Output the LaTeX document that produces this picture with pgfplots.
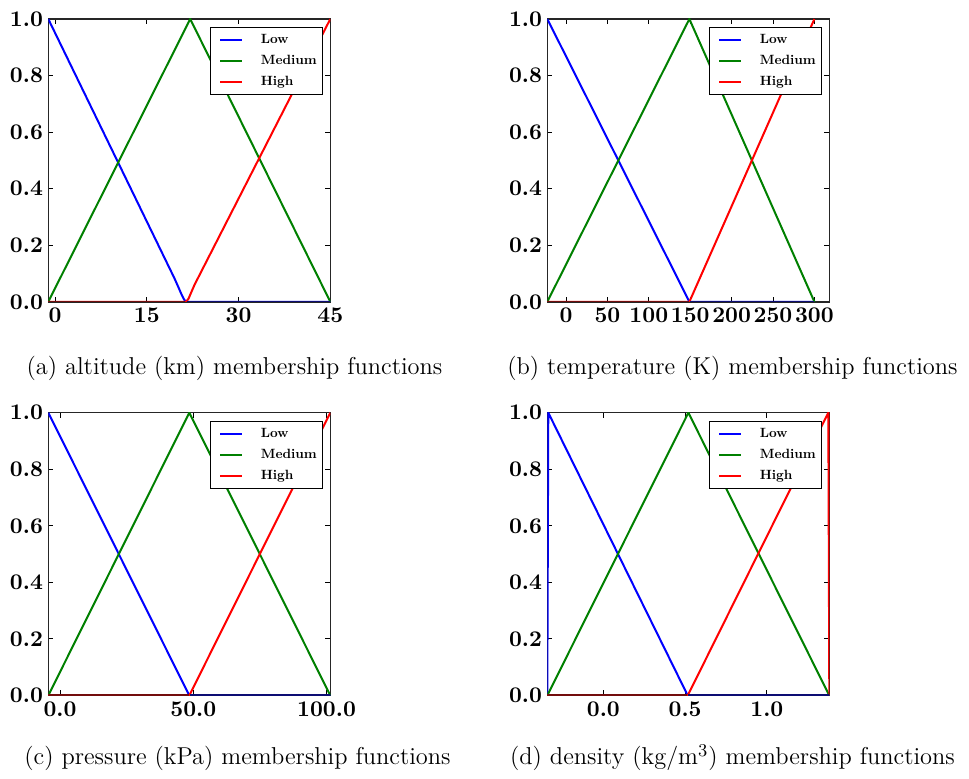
\documentclass[border=0pt]{standalone}
\usepackage{fontspec}
\newfontfamily\lmten{lmroman10-regular}[Extension=.otf, BoldFont=lmroman10-bold]
\usepackage{pgfplots}
\pgfplotsset{compat=1.18}
\definecolor{mplblue}{rgb}{0,0,1}
\definecolor{mplgreen}{rgb}{0,0.5,0}
\definecolor{mplred}{rgb}{1,0,0}
\definecolor{darkred}{rgb}{0.45,0.05,0.05}
\definecolor{darkblue}{rgb}{0.05,0.05,0.45}

\pgfplotsset{
  mf/.style={
    scale only axis, width=141pt, height=141.4pt,
    anchor=north west,
    ymin=0, ymax=1,
    ytick={0,0.2,0.4,0.6,0.8,1.0},
    yticklabels={0.0,0.2,0.4,0.6,0.8,1.0},
    tick align=inside, major tick length=2.5pt,
    axis line style={line width=0.8pt, black!85},
    every tick/.style={black, line width=0.5pt},
    ticklabel style={font=\lmten\fontsize{11.2}{13}\selectfont\bfseries},
    yticklabel style={inner xsep=2.5pt},
    xticklabel style={inner ysep=3pt},
    legend cell align=left,
    legend style={at={(rel axis cs:1,1)}, anchor=north east,
      xshift=-3.5pt, yshift=-4pt,
      font=\lmten\fontsize{6.7}{8}\selectfont\bfseries,
      draw=black, line width=0.5pt, fill=white,
      inner xsep=2pt, inner ysep=1pt, column sep=7.8pt, row sep=0pt,
      nodes={inner xsep=1pt, inner ysep=2pt, text height=5pt, text depth=1.5pt}},
    legend image code/.code={\path (0pt,0pt); \draw[#1, line width=1pt] (2.3pt,0pt) -- (13.3pt,0pt);},
    every axis plot/.append style={line width=1pt},
  }
}

\begin{document}
\begin{tikzpicture}
\path[use as bounding box] (0,0) rectangle (484.5pt,-389.5pt);

% (a) altitude
\begin{axis}[mf, at={(24.15pt,-9.5pt)},
  xmin=-1.1, xmax=45, xtick={0,15,30,45}, xticklabels={0,15,30,45}]
\addplot[mplblue] coordinates {(-1.1,1) (19.5,0.084) (20.2,0.05) (20.7,0.025) (21.1,0.008) (21.4,0) (45,0)};
\addplot[mplgreen] coordinates {(-1.1,0) (22.1,1) (45,0)};
\addplot[mplred] coordinates {(-1.1,0) (21.4,0) (21.8,0.01) (22.2,0.03) (22.8,0.06) (45,1)};
\addplot[darkred, forget plot] coordinates {(-1.1,0) (21.2,0)};
\addplot[darkblue, forget plot] coordinates {(21.6,0) (45,0)};
\legend{Low,Medium,High}
\end{axis}

% (b) temperature
\begin{axis}[mf, at={(273.65pt,-9.5pt)},
  xmin=-22.6, xmax=318, xtick={0,50,100,150,200,250,300},
  xticklabels={0,50,100,150,200,250,300}]
\addplot[mplblue] coordinates {(-22.6,1) (149,0) (300,0)};
\addplot[mplgreen] coordinates {(-22.6,0) (149,1) (300,0)};
\addplot[mplred] coordinates {(-22.6,0) (149,0) (300,1)};
\addplot[darkred, forget plot] coordinates {(-22.6,0) (148,0)};
\addplot[darkblue, forget plot] coordinates {(150,0) (300,0)};
\legend{Low,Medium,High}
\end{axis}

% (c) pressure
\begin{axis}[mf, at={(24.15pt,-206.35pt)},
  xmin=-4.4, xmax=101.4, xtick={0,50,100}, xticklabels={0.0,50.0,100.0}]
\addplot[mplblue] coordinates {(-4.4,1) (48.5,0) (101.4,0)};
\addplot[mplgreen] coordinates {(-4.4,0) (48.5,1) (101.4,0)};
\addplot[mplred] coordinates {(-4.4,0) (48.5,0) (101.4,1)};
\addplot[darkred, forget plot] coordinates {(-4.4,0) (48.2,0)};
\addplot[darkblue, forget plot] coordinates {(48.8,0) (101.4,0)};
\legend{Low,Medium,High}
\end{axis}

% (d) density
\begin{axis}[mf, at={(273.65pt,-206.35pt)},
  xmin=-0.343, xmax=1.382, xtick={0,0.5,1.0}, xticklabels={0.0,0.5,1.0}]
\addplot[mplblue] coordinates {(-0.343,0) (-0.337,1) (0.516,0) (1.382,0)};
\addplot[mplgreen] coordinates {(-0.343,0) (0.52,1) (1.382,0)};
\addplot[mplred] coordinates {(-0.343,0) (0.516,0) (1.376,1) (1.382,0)};
\addplot[darkred, forget plot] coordinates {(-0.343,0) (0.513,0)};
\addplot[darkblue, forget plot] coordinates {(0.519,0) (1.382,0)};
\legend{Low,Medium,High}
\end{axis}

\begin{scope}[every node/.style={font=\fontsize{12.2}{14}\selectfont, anchor=base, inner sep=0pt}]
\node at (117.25pt,-187.25pt) {(a) altitude (km) membership functions};
\node at (366.25pt,-187.25pt) {(b) temperature (K) membership functions};
\node at (118.75pt,-382.5pt) {(c) pressure (kPa) membership functions};
\node at (366.25pt,-382.5pt) {(d) density (kg/m$^3$) membership functions};
\end{scope}
\end{tikzpicture}
\end{document}
